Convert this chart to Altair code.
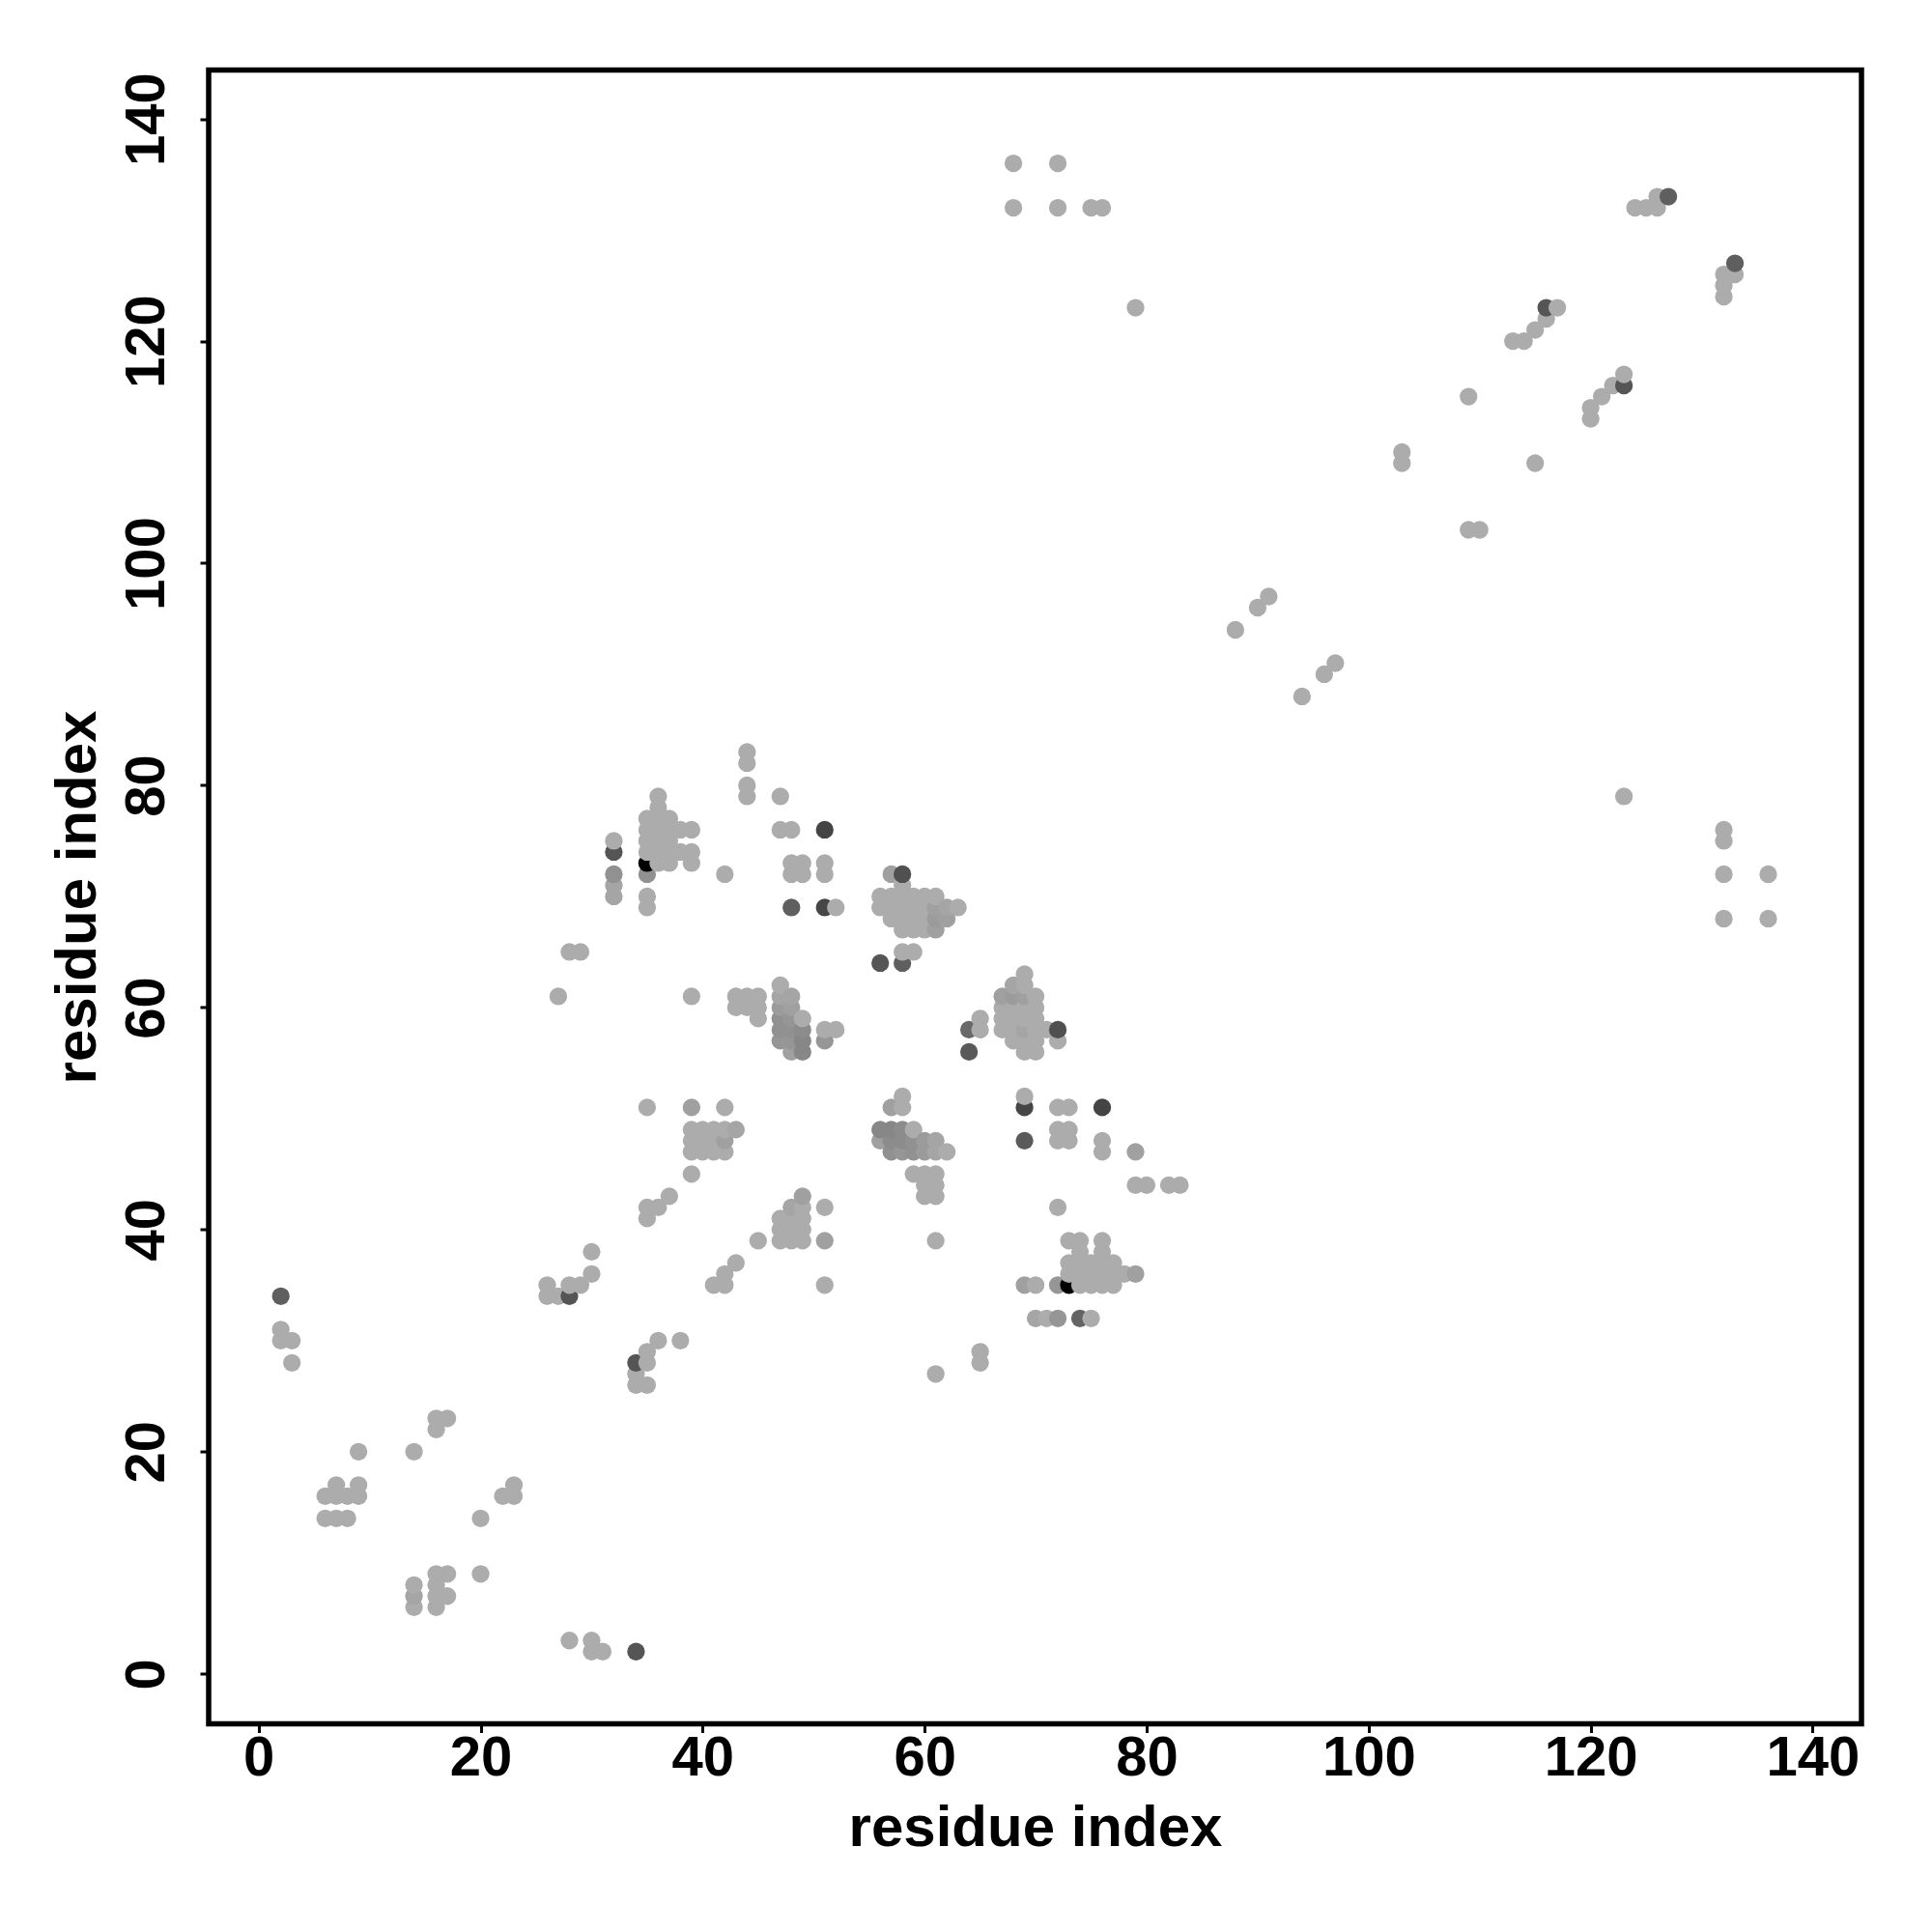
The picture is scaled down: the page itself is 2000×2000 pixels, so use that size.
import altair as alt
import pandas as pd

A = 172

x_index = [
    2,2,2,
    3,3,
    6,6,
    7,7,7,
    8,8,
    9,9,9,
    14,14,14,14,
    16,16,16,16,16,16,
    17,17,17,
    20,20,
    22,
    23,23,
    26,26,
    27,27,
    28,28,28,28,
    29,29,
    30,30,30,30,
    31,
    32,32,32,32,32,
    34,34,34,34,
    35,35,35,35,35,35,35,35,35,35,35,35,35,35,
    36,36,36,36,36,36,36,36,36,
    37,37,37,37,37,37,
    38,38,38,
    39,39,39,39,39,39,39,39,39,
    40,40,40,
    41,41,41,41,
    42,42,42,42,42,42,42,
    43,43,43,43,
    44,44,44,44,44,44,
    45,45,45,45,
    47,47,47,47,47,47,47,47,47,47,47,
    48,48,48,48,48,48,48,48,48,48,48,48,48,48,
    49,49,49,49,49,49,49,49,49,49,49,
    51,51,51,51,51,51,51,51,51,
    52,52,
    56,56,56,56,56,
    57,57,57,57,57,57,57,57,
    58,58,58,58,58,58,58,58,58,58,58,58,58,
    59,59,59,59,59,59,59,59,59,
    60,60,60,60,60,60,60,60,60,
    61,61,61,61,61,61,61,61,61,61,61,
    62,62,62,
    63,
    64,64,
    65,65,65,65,
    67,67,67,67,
    68,68,68,68,68,68,68,68,
    69,69,69,69,69,69,69,69,69,69,69,69,
    70,70,70,70,70,70,70,70,
    71,71,
    72,72,72,72,72,72,72,72,72,72,
    73,73,73,73,73,73,73,
    74,74,74,74,74,74,
    75,75,75,75,75,
    76,76,76,76,76,76,76,76,76,
    77,77,77,
    78,
    79,79,79,79,
    80,
    82,
    83,
    88,90,91,94,96,97,
    103,103,
    109,109,
    110,
    113,114,
    115,115,
    116,116,
    117,
    120,120,
    121,122,
    123,123,123,
    124,125,
    126,126,
    127,
    132,132,132,132,132,132,132,
    133,133,
    136,136,
]

y_index = [
    30,31,34,
    28,30,
    14,16,
    14,16,17,
    14,16,
    16,17,20,
    6,7,8,20,
    6,7,8,9,22,23,
    7,9,23,
    9,14,
    16,
    16,17,
    34,35,
    34,61,
    3,34,35,65,
    35,65,
    2,3,36,38,
    2,
    70,71,72,74,75,
    2,26,27,28,
    26,28,29,41,42,51,69,70,72,73,74,75,76,77,
    30,42,73,74,75,76,77,78,79,
    43,73,74,75,76,77,
    30,74,76,
    45,47,48,49,51,61,73,74,76,
    47,48,49,
    35,47,48,49,
    35,36,47,48,49,51,72,
    37,49,60,61,
    60,61,79,80,82,83,
    39,59,60,61,
    39,40,41,57,58,59,60,61,62,76,79,
    39,40,41,42,56,57,58,59,60,61,69,72,73,76,
    39,40,41,42,43,56,57,58,59,72,73,
    35,39,42,57,58,69,72,73,76,
    58,69,
    48,49,64,69,70,
    47,48,49,51,68,69,70,72,
    47,48,49,51,52,64,65,67,68,69,70,71,72,
    45,47,48,49,65,67,68,69,70,
    43,44,45,47,48,67,68,69,70,
    27,39,43,44,45,47,48,67,68,69,70,
    47,68,69,
    69,
    56,58,
    28,29,58,59,
    58,59,60,61,
    57,58,59,60,61,62,132,136,
    35,48,51,52,56,57,58,59,60,61,62,63,
    32,35,56,57,58,59,60,61,
    32,58,
    32,35,42,48,49,51,57,58,132,136,
    35,36,37,39,48,49,51,
    32,35,36,37,38,39,
    32,35,36,37,132,
    35,36,37,38,39,47,48,51,132,
    35,36,37,
    36,
    36,44,47,123,
    44,
    44,
    44,
    94,96,97,88,90,91,
    109,110,
    103,115,
    103,
    120,120,
    109,121,
    122,123,
    123,
    113,114,
    115,116,
    79,116,117,
    132,132,
    132,133,
    133,
    68,72,75,76,124,125,126,
    126,127,
    68,72,
]

shade = [
    A,A,95,
    A,A,
    A,A,
    A,A,A,
    A,A,
    A,A,A,
    A,165,A,A,
    A,A,A,A,A,A,
    A,A,A,
    A,A,
    A,
    A,A,
    A,A,
    A,A,
    A,85,A,A,
    A,A,
    A,A,A,A,
    A,
    165,165,145,85,A,
    85,A,A,85,
    A,A,A,A,A,A,A,A,145,0,A,A,A,A,
    A,A,A,A,A,A,A,A,A,
    A,A,A,A,A,A,
    A,A,A,
    A,A,A,A,160,A,A,A,A,
    A,A,A,
    A,A,A,A,
    A,A,A,160,A,A,A,
    A,165,A,A,
    A,A,A,A,A,A,
    A,A,A,A,
    A,A,A,150,145,145,155,165,A,A,A,
    A,A,A,165,160,150,145,150,160,165,95,A,A,A,
    A,A,A,A,160,135,135,140,A,A,A,
    A,160,A,150,A,70,A,A,68,
    A,A,
    160,135,85,A,A,
    145,140,135,160,A,A,A,160,
    150,140,140,A,A,95,A,A,A,A,A,A,80,
    A,145,145,A,A,A,A,A,A,
    A,A,A,155,155,A,A,A,A,
    A,A,A,A,A,165,165,160,155,160,A,
    A,160,165,
    A,
    90,105,
    A,A,A,A,
    A,A,A,160,
    A,A,A,A,155,165,A,A,
    160,90,70,A,A,A,165,A,A,160,A,A,
    165,A,A,A,A,A,A,A,
    A,A,
    150,150,A,A,A,A,A,80,A,A,
    0,A,A,A,A,A,A,
    100,A,A,A,A,A,
    A,A,A,A,A,
    A,A,A,A,A,A,A,68,A,
    A,A,A,
    A,
    160,A,160,A,
    A,
    A,
    A,
    A,A,A,A,A,A,
    A,A,
    A,A,
    A,
    A,A,
    A,A,
    A,85,
    A,
    A,A,
    A,A,
    A,85,A,
    A,A,
    A,A,
    95,
    A,A,A,A,A,A,A,
    A,95,
    A,A,
]

tick_values = [0, 20, 40, 60, 80, 100, 120, 140]
domain_min, domain_max = -4.5, 144.4
axis_title = "residue index"

df = pd.DataFrame({"x": x_index, "y": y_index, "shade": shade})

font = "Liberation Sans"

chart = (
    alt.Chart(df)
    .mark_circle(size=335, opacity=1)
    .encode(
        x=alt.X(
            "x:Q",
            scale=alt.Scale(domain=[domain_min, domain_max], nice=False, zero=False),
            axis=alt.Axis(
                values=tick_values, title=axis_title, grid=False, domain=False,
                tickSize=9, tickWidth=3, tickColor="black",
                labelFont=font, labelFontSize=58, labelFontWeight="bold", labelColor="black",
                labelPadding=-2, labelFlush=False, labelOverlap=False,
                titleFont=font, titleFontSize=60, titleFontWeight="bold", titleColor="black",
                titlePadding=13.5,
            ),
        ),
        y=alt.Y(
            "y:Q",
            scale=alt.Scale(domain=[domain_min, domain_max], nice=False, zero=False),
            axis=alt.Axis(
                values=tick_values, title=axis_title, grid=False, domain=False,
                tickSize=9, tickWidth=3, tickColor="black",
                labelFont=font, labelFontSize=58, labelFontWeight="bold", labelColor="black",
                labelAngle=270, labelAlign="center", labelBaseline="bottom",
                labelPadding=26, labelFlush=False, labelOverlap=False,
                titleFont=font, titleFontSize=60, titleFontWeight="bold", titleColor="black",
                titlePadding=12,
            ),
        ),
        color=alt.Color(
            "shade:Q",
            scale=alt.Scale(domain=[0, 255], range=["#000000", "#ffffff"], interpolate="rgb"),
            legend=None,
        ),
    )
    .properties(
        width=1711, height=1712, background="white",
        padding={"left": 42, "top": 64.5, "right": 5, "bottom": 5},
    )
    .configure_view(stroke="black", strokeWidth=5.5, fill="white")
)

chart.save("out.html", embed_options={"renderer": "svg", "actions": False})
